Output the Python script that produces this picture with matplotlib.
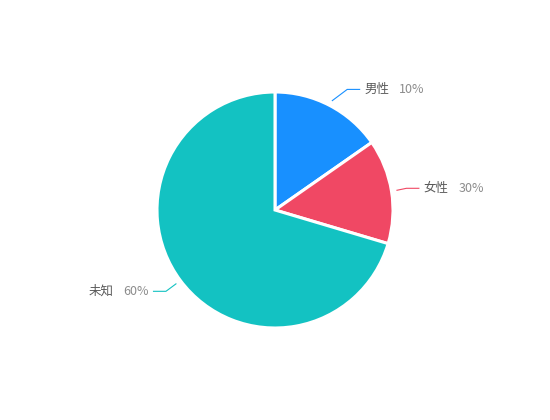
import matplotlib.pyplot as plt
import numpy as np

plt.rcParams['font.family'] = ['Noto Sans CJK SC', 'DejaVu Sans']

# slice sizes, labels as printed on it
categories = ['男性', '女性', '未知']
sizes = [15.3, 14.3, 70.4]
pct_labels = ['10%', '30%', '60%']
colors = ['#1890FF', '#F04864', '#13C2C2']

W, H = 550, 420
center = (275, 210)
radius = 118
label_r = 150  # labels sit on this circle

fig = plt.figure(figsize=(W / 100, H / 100), dpi=100)
ax = fig.add_axes([0, 0, 1, 1])

wedges, _ = ax.pie(sizes, colors=colors, startangle=90, counterclock=False,
                   center=center, radius=radius,
                   wedgeprops=dict(edgecolor='white', linewidth=2.2))
ax.set_aspect('equal')
ax.set_xlim(0, W)
ax.set_ylim(0, H)
ax.axis('off')

for w, name, pct, col in zip(wedges, categories, pct_labels, colors):
    mid = np.radians((w.theta1 + w.theta2) / 2)
    c, s = np.cos(mid), np.sin(mid)
    side = 1 if c >= 0 else -1
    start = (center[0] + (radius + 5) * c, center[1] + (radius + 5) * s)
    dy = (radius + 18) * s
    tx = center[0] + side * np.sqrt(label_r ** 2 - dy ** 2)
    ly = center[1] + dy
    end_x = tx - side * 4
    elbow_x = end_x - side * 13
    ax.plot([start[0], elbow_x, end_x], [start[1], ly, ly],
            color=col, lw=0.8, solid_capstyle='butt')
    if side > 0:
        t = ax.text(tx, ly, name, color='#595959', fontsize=9,
                    ha='left', va='center')
        ax.annotate(pct, xy=(1, 0.5), xycoords=t, xytext=(10, 0),
                    textcoords='offset pixels', color='#8C8C8C',
                    fontsize=9, ha='left', va='center')
    else:
        t = ax.text(tx, ly, pct, color='#8C8C8C', fontsize=9,
                    ha='right', va='center')
        ax.annotate(name, xy=(0, 0.5), xycoords=t, xytext=(-10, 0),
                    textcoords='offset pixels', color='#595959',
                    fontsize=9, ha='right', va='center')

fig.savefig('out.png', dpi=100)
